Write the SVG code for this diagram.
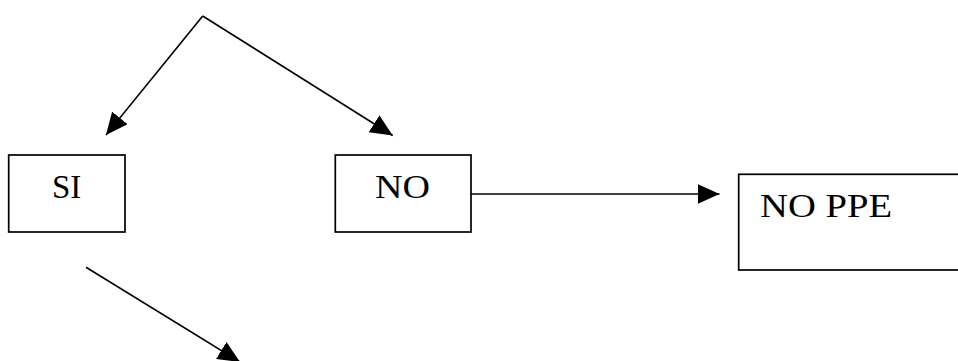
<svg xmlns="http://www.w3.org/2000/svg" width="958" height="361" viewBox="0 0 958 361">
<style>
.box{fill:#fff;stroke:#000;stroke-width:1.7}
.lbl{font-family:"Liberation Serif","Times New Roman",serif;font-size:33px;fill:#000}
.con{fill:none;stroke:#000;stroke-width:1.6;marker-end:url(#ah)}
</style>
<defs>
<marker id="ah" markerUnits="userSpaceOnUse" markerWidth="22" markerHeight="20" viewBox="0 0 22 20" refX="22" refY="10" orient="auto">
<path d="M0,0 L22,10 L0,20 Z" fill="#000"/>
</marker>
</defs>
<rect width="958" height="361" fill="#fff"/>
<g id="connectors">
<line class="con" x1="202.7" y1="16" x2="106" y2="135"/>
<line class="con" x1="202.7" y1="16" x2="392.7" y2="135.5"/>
<line class="con" x1="471" y1="194" x2="719.5" y2="194"/>
<line class="con" x1="86" y1="267.3" x2="240" y2="362"/>
</g>
<g id="si">
<rect class="box" x="8.7" y="155" width="116.3" height="77"/>
<text class="lbl" x="66.7" y="198" text-anchor="middle">SI</text>
</g>
<g id="no">
<rect class="box" x="335.3" y="155" width="135.7" height="77"/>
<text class="lbl" x="375" y="198" textLength="55" lengthAdjust="spacingAndGlyphs">NO</text>
</g>
<g id="noppe">
<rect class="box" x="738.7" y="174.3" width="230" height="95.7"/>
<text class="lbl" x="760" y="216.7" textLength="132" lengthAdjust="spacingAndGlyphs">NO PPE</text>
</g>
</svg>
